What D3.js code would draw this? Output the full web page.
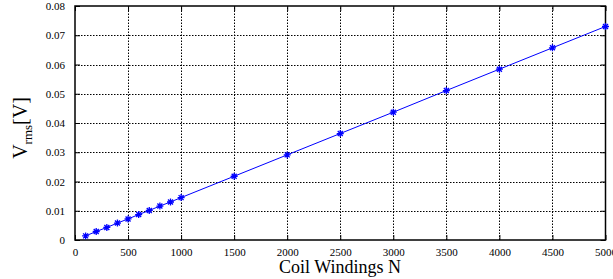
<!DOCTYPE html>
<html>
<head>
<meta charset="utf-8">
<script src="https://cdn.jsdelivr.net/npm/d3@7"></script>
<style>
  html, body { margin:0; padding:0; background:#fff; }
  svg, svg text { font-family:"Liberation Serif","Times New Roman",serif !important; }
  svg { display:block; }
</style>
</head>
<body>
<div id="chart"></div>
<script>
var windings = [100,200,300,400,500,600,700,800,900,1000,1500,2000,2500,3000,3500,4000,4500,5000];
var vrms = [0.0014,0.0029,0.0043,0.0058,0.0072,0.0087,0.0101,0.0116,0.0130,0.0145,0.0218,0.0291,0.0364,0.0437,0.0511,0.0584,0.0657,0.0730];
var xTicks = [0,500,1000,1500,2000,2500,3000,3500,4000,4500,5000];
var yTicks = [0,0.01,0.02,0.03,0.04,0.05,0.06,0.07,0.08];

var W = 613, H = 279;
var m = {left:75, right:7.5, top:6, bottom:39};

var svg = d3.select("#chart").append("svg").attr("width",W).attr("height",H);

var x = d3.scaleLinear().domain([0,5000]).range([m.left, W-m.right]);
var y = d3.scaleLinear().domain([0,0.08]).range([H-m.bottom, m.top]);

// grid
var grid = svg.append("g").attr("stroke","#000").attr("stroke-width",1).attr("stroke-dasharray","1.5,1.5");
grid.selectAll("line.gx").data(xTicks.slice(1,-1)).enter().append("line")
  .attr("x1",function(d){return Math.round(x(d))+0.5;}).attr("x2",function(d){return Math.round(x(d))+0.5;})
  .attr("y1",y(0)).attr("y2",y(0.08));
grid.selectAll("line.gy").data(yTicks.slice(1,-1)).enter().append("line")
  .attr("y1",function(d){return Math.round(y(d))+0.5;}).attr("y2",function(d){return Math.round(y(d))+0.5;})
  .attr("x1",x(0)).attr("x2",x(5000));

// axes (ticks inward, mirrored)
var tickFont = function(g){
  g.attr("font-family",null).attr("font-size",null);
  g.select(".domain").remove();
  g.selectAll("text").attr("font-size",11).attr("fill","#000");
  g.selectAll(".tick line").attr("stroke","#000");
};
svg.append("g").attr("transform","translate(0,"+y(0)+")")
  .call(d3.axisBottom(x).tickValues(xTicks).tickFormat(d3.format("d")).tickSizeInner(-5).tickPadding(8))
  .call(tickFont);
svg.append("g").attr("transform","translate(0,"+y(0.08)+")")
  .call(d3.axisTop(x).tickValues(xTicks).tickFormat("").tickSizeInner(-5))
  .call(tickFont);
svg.append("g").attr("transform","translate("+x(0)+",0)")
  .call(d3.axisLeft(y).tickValues(yTicks).tickFormat(function(d){return d===0?"0":d3.format(".2f")(d);}).tickSizeInner(-5).tickPadding(10))
  .call(tickFont);
svg.append("g").attr("transform","translate("+x(5000)+",0)")
  .call(d3.axisRight(y).tickValues(yTicks).tickFormat("").tickSizeInner(-5))
  .call(tickFont);

svg.append("rect").attr("x",x(0)).attr("y",y(0.08))
  .attr("width",x(5000)-x(0)).attr("height",y(0)-y(0.08))
  .attr("fill","none").attr("stroke","#000").attr("stroke-width",1.5);

// series
var pts = windings.map(function(n,i){return [n, vrms[i]];});
svg.append("path").datum(pts)
  .attr("fill","none").attr("stroke","#0000ff").attr("stroke-width",1)
  .attr("d", d3.line().x(function(d){return x(d[0]);}).y(function(d){return y(d[1]);}));

var star = "M-3.5,0H3.5M0,-3.5V3.5M-2.5,-2.5L2.5,2.5M-2.5,2.5L2.5,-2.5";
svg.append("g").selectAll("path").data(pts).enter().append("path")
  .attr("transform",function(d){return "translate("+x(d[0])+","+y(d[1])+")";})
  .attr("d",star).attr("stroke","#0000ff").attr("stroke-width",1.3).attr("fill","none");

// labels
svg.append("text").attr("x",340).attr("y",273).attr("text-anchor","middle")
  .attr("font-size",18).text("Coil Windings N");
var yl = svg.append("text").attr("transform","translate(27,128) rotate(-90)")
  .attr("text-anchor","middle").attr("font-size",20);
yl.append("tspan").text("V");
yl.append("tspan").attr("font-size",13).attr("dy",5).text("rms");
yl.append("tspan").attr("dy",-5).text("[V]");
</script>
</body>
</html>
